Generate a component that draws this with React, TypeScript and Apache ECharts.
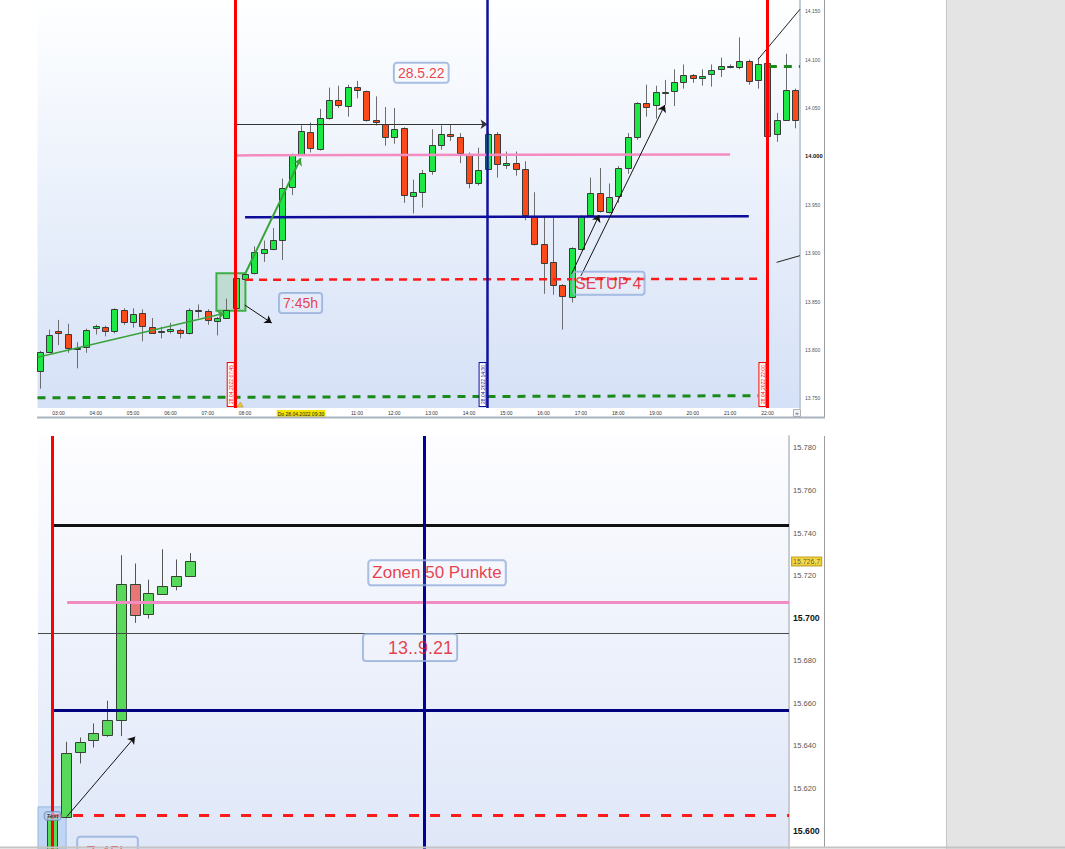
import React, { useEffect, useRef } from "react";
import * as echarts from "echarts";

// ---------- Oberer Chart: 15-Minuten-Kerzen, Do 28.04.2022 ----------
// Zeitachse in Viertelstunden seit 00:00 ("02:30" -> 10)
const topFirstTime = "02:30";
const topOpen = [
  13778, 13798, 13820, 13816, 13801, 13803, 13823, 13824, 13820, 13841, 13829, 13838,
  13824, 13819, 13820, 13821, 13818, 13841, 13840.5, 13830, 13833, 13843, 13873, 13879,
  13900, 13904, 13914, 13968, 14002, 14025, 14008, 14040, 14058, 14052, 14072, 14068,
  14038, 14033, 14020, 14029, 13959, 13963, 13985, 14012, 14023, 14020, 14001, 13972,
  13987, 14023, 13991, 13993, 13987, 13938, 13909, 13891, 13867, 13855, 13904, 13939,
  13962, 13943, 13959, 13988, 14020, 14055, 14053, 14066, 14068, 14077, 14084, 14081,
  14085, 14090, 14093.5, 14092, 14099, 14079, 14096, 14023, 14038, 14069,
];
const topClose = [
  13798, 13815, 13817, 13802, 13802, 13821, 13825, 13819.5, 13842, 13829, 13837, 13825,
  13818, 13820, 13822, 13818, 13841, 13840, 13831, 13833, 13841, 13874, 13878, 13901,
  13904, 13914, 13967, 14001, 14026, 14009, 14040, 14058, 14053, 14072, 14069, 14038,
  14035, 14020, 14028, 13960, 13963, 13983, 14012, 14023, 14021, 14003, 13973, 13986,
  14023, 13992, 13993, 13987, 13939, 13909, 13890, 13867, 13856, 13905, 13938, 13962,
  13944, 13958, 13988, 14020, 14055, 14051, 14067, 14067, 14077, 14084, 14081, 14083,
  14089, 14093, 14092, 14099, 14078, 14095, 14021, 14038, 14069, 14038,
];
const topLow = [
  13760, 13797, 13805, 13797, 13781, 13797, 13816, 13814, 13817, 13826, 13823, 13809,
  13817, 13812, 13817, 13812, 13816, 13833, 13826, 13815, 13832, 13842, 13872, 13878,
  13891, 13903, 13893, 13960, 14001, 14004, 14006, 14038, 14050, 14041, 14060, 14036,
  14032, 14011, 14013, 13952, 13941, 13947, 13981, 14007, 14016, 13993, 13967, 13970,
  13986, 13978, 13987, 13980, 13934, 13908, 13858, 13857, 13821, 13849, 13903, 13938,
  13942, 13941, 13952, 13982, 14017, 14041, 14039, 14053, 14052, 14070, 14076, 14073,
  14072, 14082, 14091, 14090, 14074, 14070, 14020, 14015, 14037, 14029,
];
const topHigh = [
  13799, 13821, 13831, 13827, 13808, 13822, 13826, 13825, 13843, 13843, 13843, 13842,
  13833, 13824, 13828, 13822, 13843, 13847, 13842, 13834, 13853, 13876, 13879, 13907,
  13913, 13926, 13977, 14003, 14032, 14035, 14049, 14071, 14073, 14074, 14078, 14068,
  14062, 14051, 14050, 14030, 13976, 13986, 14028, 14032, 14033, 14024, 14004, 14009,
  14025, 14025, 14005, 14005, 13995, 13963, 13938, 13937, 13868, 13906, 13939, 13978,
  13988, 13972, 13990, 14024, 14056, 14074, 14073, 14079, 14090, 14095, 14085, 14090,
  14095, 14102, 14095, 14123, 14100, 14102, 14097, 14045, 14106, 14070,
];

const topTimeLabels = [
  "03:00", "04:00", "05:00", "06:00", "07:00", "08:00", "11:00", "12:00", "13:00",
  "14:00", "15:00", "16:00", "17:00", "18:00", "19:00", "20:00", "21:00", "22:00",
];
const topDateLabel = "Do 28.04.2022 09:30";
const topPriceTicks = [13750, 13800, 13850, 13900, 13950, 14000, 14050, 14100, 14150];
const topBoldTicks = [14000];

// Vertikale Zeitmarken
const topMarkTimes = ["07:45", "14:30", "22:00"];
const topMarkTexts = ["28.04.2022 07:45", "28.04.2022 14:30", "28.04.2022 22:00"];

// Horizontale Level
const topRangeHigh = 14033.2;
const topPinkLevel = 14001;
const topNavyLevel = 13937;
const topRedLevel = 13872.5;
const topGreenLow = [13750.6, 13752.7];
const topGreenHigh = 14093.5;

// Beschriftungen: Text, Zeit (Viertelstunden), Kurs
const topNoteTexts = ["28.5.22", "7:45h", "SETUP 4"];
const topNoteSlots = [50.89, 37.95, 70.98];
const topNotePrices = [14086.4, 13848.4, 13868.8];

// ---------- Unterer Chart: 13.9.21 ----------
const bottomFirstTime = "07:45";
const bottomOpen = [15575, 15606.7, 15637.2, 15642.7, 15644.9, 15652.3, 15716.3, 15702.1, 15711.5, 15715, 15719.8];
const bottomClose = [15607, 15636.5, 15641.9, 15645.8, 15652.3, 15716, 15701.7, 15712, 15715.1, 15719.8, 15726.7];
const bottomLow = [15570, 15606, 15631.7, 15639.2, 15644.2, 15644.6, 15697.8, 15699.8, 15711, 15713.1, 15719.5];
const bottomHigh = [15607.5, 15641.9, 15643.9, 15650.5, 15661.2, 15729.6, 15725.7, 15718.1, 15732.4, 15727.6, 15730.6];

const bottomPriceTicks = [15600, 15620, 15640, 15660, 15680, 15700, 15720, 15740, 15760, 15780];
const bottomBoldTicks = [15600, 15700];
const bottomMarkTimes = ["07:45", "14:30"];

const bottomBlackLevel = 15743.8;
const bottomPinkLevel = 15707.7;
const bottomGrayLevel = 15693;
const bottomNavyLevel = 15656.7;
const bottomRedLevel = 15607.2;

const bottomNoteTexts = ["Zonen 50 Punkte", "13..9.21", "Text", "7:45h"];
const bottomNoteSlots = [58.96, 57.0, 31.04, 35.03];
const bottomNotePrices = [15721.3, 15686.2, 15607.05, 15597.2];

const FONT = '"Liberation Sans", Arial, Helvetica, sans-serif';
const NOTE_RED = "#e4101a";

const slotOf = (t: string) => {
  const [h, m] = t.split(":").map(Number);
  return h * 4 + m / 15;
};

const fmtPrice = (v: number) => {
  const i = Math.floor(v);
  const frac = Math.round((v - i) * 10);
  const s = `${Math.floor(i / 1000)}.${String(i % 1000).padStart(3, "0")}`;
  return frac ? `${s},${frac}` : s;
};

function candleItem(colors: any) {
  return (params: any, api: any) => {
    const x = api.value(0);
    const o = api.value(1);
    const c = api.value(2);
    const l = api.value(3);
    const h = api.value(4);
    const pO = api.coord([x, o]);
    const pC = api.coord([x, c]);
    const pL = api.coord([x, l]);
    const pH = api.coord([x, h]);
    let w = Math.round(api.size([1, 0])[0] * 0.8);
    if (w % 2 === 0) w -= 1;
    const half = Math.floor(w / 2);
    const cx = Math.round(pO[0]) + 0.5;
    const top = Math.round(Math.min(pO[1], pC[1])) + 0.5;
    const bot = Math.round(Math.max(pO[1], pC[1])) + 0.5;
    const up = c >= o;
    return {
      type: "group",
      children: [
        {
          type: "line",
          shape: { x1: cx, y1: pH[1], x2: cx, y2: pL[1] },
          style: { stroke: colors.wick, lineWidth: 1 },
        },
        {
          type: "rect",
          shape: { x: cx - half, y: top, width: half * 2, height: Math.max(bot - top, 1) },
          style: { fill: up ? colors.up : colors.down, stroke: colors.border, lineWidth: 1 },
        },
      ],
    };
  };
}

function hLine(x1: number, x2: number, y1: number, y2: number, lineStyle: any, arrow = false) {
  return [
    { coord: [x1, y1], lineStyle, symbol: "none" },
    { coord: [x2, y2], symbol: arrow ? "arrow" : "none", symbolSize: 7 },
  ];
}

function vLine(slot: number, color: string, width: number, text?: string) {
  return {
    xAxis: slot,
    lineStyle: { color, width, type: "solid" },
    label: text
      ? {
          show: true,
          position: "insideStartTop",
          formatter: text,
          color,
          fontSize: 5,
          fontFamily: FONT,
          backgroundColor: "#ffffff",
          borderColor: color,
          borderWidth: 1,
          padding: [1, 2, 0, 2],
          distance: 2,
        }
      : { show: false },
  };
}

function noteLabel(text: string, fontSize: number, extra: any = {}) {
  return {
    show: true,
    position: "inside",
    formatter: text,
    color: NOTE_RED,
    fontSize,
    fontFamily: FONT,
    backgroundColor: "rgba(255,255,255,0.15)",
    borderColor: "#8eaad8",
    borderWidth: 1,
    borderRadius: 3,
    padding: [3, 4, 3, 4],
    ...extra,
  };
}

function buildOption() {
  const topStart = slotOf(topFirstTime);
  const bottomStart = slotOf(bottomFirstTime);
  const topCandles = topOpen.map((o, i) => [topStart + i, o, topClose[i], topLow[i], topHigh[i]]);
  const bottomCandles = bottomOpen.map((o, i) => [bottomStart + i, o, bottomClose[i], bottomLow[i], bottomHigh[i]]);

  // Achsenfenster (Viertelstunden bzw. Punkte)
  const topXMin = 9.75;
  const topXMax = 91.49;
  const botXMin = 29.98;
  const botXMax = 84.52;
  const botYMin = 15591.5;
  const botYMax = 15785.64;

  const [m0745, m1430, m2200] = topMarkTimes.map(slotOf);

  const topGrad = new echarts.graphic.LinearGradient(0, 0, 0, 1, [
    { offset: 0, color: "#feffff" },
    { offset: 1, color: "#d5e1f7" },
  ]);
  const botGrad = new echarts.graphic.LinearGradient(0, 0, 0, 1, [
    { offset: 0, color: "#fdfdff" },
    { offset: 1, color: "#dfe7f8" },
  ]);

  const redDash = { color: "#ff1a1a", width: 2.5, type: [8, 6] };
  const greenDash = { color: "#1b8a1b", width: 3, type: [8, 7] };

  const topLabelSize = [14, 14, 16];
  const topNotes = topNoteTexts.map((t, i) => ({
    value: [topNoteSlots[i], topNotePrices[i]],
    label: noteLabel(t, topLabelSize[i], i === 2 ? { padding: [4, 3, 3, 2] } : {}),
  }));

  const lastPrice = bottomClose[bottomClose.length - 1];
  const bottomNoteStyles: any[] = [
    { fontSize: 17, padding: [4, 4, 4, 4] },
    { fontSize: 18, padding: [5, 4, 4, 25] },
    {
      fontSize: 6,
      fontWeight: "bold",
      color: "#222",
      padding: [1, 2, 1, 2],
      backgroundColor: "rgba(200,215,240,0.7)",
      borderColor: "#6f8fc0",
    },
    { fontSize: 17, padding: [7, 9, 6, 9], position: "bottom", distance: 0 },
  ];
  const bottomNotes: any[] = bottomNoteTexts.map((t, i) => ({
    value: [bottomNoteSlots[i], bottomNotePrices[i]],
    label: noteLabel(t, bottomNoteStyles[i].fontSize, bottomNoteStyles[i]),
  }));
  bottomNotes.push({
    value: [botXMax, lastPrice],
    label: {
      show: true,
      position: "right",
      distance: 3,
      formatter: fmtPrice(lastPrice),
      color: "#333",
      fontSize: 7,
      fontFamily: FONT,
      backgroundColor: "#f6d21f",
      borderColor: "#b08c00",
      borderWidth: 1,
      padding: [1, 1, 0, 1],
    },
  });

  const topTimeSlots = topTimeLabels.map(slotOf);
  const dateSlot = slotOf(topDateLabel.slice(-5));

  return {
    animation: false,
    backgroundColor: "#ffffff",
    tooltip: { show: false },
    grid: [
      { left: 37.5, top: 0, width: 762.5, height: 408, show: true, backgroundColor: topGrad, borderWidth: 0 },
      { left: 38, top: 436, width: 751, height: 413, show: true, backgroundColor: botGrad, borderWidth: 0 },
    ],
    xAxis: [
      {
        gridIndex: 0,
        type: "value",
        min: topXMin,
        max: topXMax,
        interval: 0.25,
        splitLine: { show: false },
        axisLine: { show: false },
        axisTick: { show: false },
        axisLabel: {
          show: true,
          margin: 2,
          fontSize: 5,
          color: "#333",
          fontFamily: FONT,
          formatter: (v: number) => {
            if (Math.abs(v - dateSlot) < 1e-6) return `{d|${topDateLabel}}`;
            const k = topTimeSlots.findIndex((s) => Math.abs(s - v) < 1e-6);
            return k >= 0 ? topTimeLabels[k] : "";
          },
          rich: {
            d: { backgroundColor: "#f2e400", color: "#222", fontSize: 5, fontFamily: FONT, padding: [1.5, 1, 1, 1] },
          },
        },
      },
      {
        gridIndex: 1,
        type: "value",
        min: botXMin,
        max: botXMax,
        show: false,
        splitLine: { show: false },
      },
    ],
    yAxis: [
      {
        gridIndex: 0,
        type: "value",
        position: "right",
        min: 13740,
        max: 14161.57,
        interval: 10,
        splitLine: { show: false },
        axisLine: { show: true, lineStyle: { color: "#c3cbd5", width: 2 } },
        axisTick: { show: false },
        axisLabel: {
          margin: 5,
          fontSize: 5,
          color: "#555",
          fontFamily: FONT,
          formatter: (v: number) => {
            if (!topPriceTicks.includes(v)) return "";
            return topBoldTicks.includes(v) ? `{b|${fmtPrice(v)}}` : fmtPrice(v);
          },
          rich: { b: { fontSize: 5.8, fontWeight: "bold", color: "#111", fontFamily: FONT } },
        },
      },
      {
        gridIndex: 1,
        type: "value",
        position: "right",
        min: botYMin,
        max: botYMax,
        interval: 0.5,
        splitLine: { show: false },
        axisLine: { show: true, lineStyle: { color: "#c6ccd2", width: 2 } },
        axisTick: { show: false },
        axisLabel: {
          margin: 4,
          fontSize: 7.6,
          color: "#555",
          fontFamily: FONT,
          formatter: (v: number) => {
            if (!bottomPriceTicks.includes(v)) return "";
            return bottomBoldTicks.includes(v) ? `{b|${fmtPrice(v)}}` : fmtPrice(v);
          },
          rich: { b: { fontSize: 8.7, fontWeight: "bold", color: "#111", fontFamily: FONT } },
        },
      },
    ],
    series: [
      {
        type: "custom",
        name: "DAX 28.04.2022",
        xAxisIndex: 0,
        yAxisIndex: 0,
        clip: true,
        silent: true,
        z: 3,
        renderItem: candleItem({ up: "#1ce845", down: "#fb4a1a", border: "#3a3a3a", wick: "#6d6d6d" }),
        encode: { x: 0, y: [1, 2, 3, 4] },
        data: topCandles,
      },
      {
        type: "custom",
        name: "DAX 13.09.2021",
        xAxisIndex: 1,
        yAxisIndex: 1,
        clip: true,
        silent: true,
        z: 3,
        renderItem: candleItem({ up: "#58d95c", down: "#e87676", border: "#334433", wick: "#555555" }),
        encode: { x: 0, y: [1, 2, 3, 4] },
        data: bottomCandles,
      },
      {
        type: "scatter",
        xAxisIndex: 0,
        yAxisIndex: 0,
        symbolSize: 0,
        silent: true,
        z: 6,
        data: topNotes,
        markArea: {
          silent: true,
          data: [
            [
              {
                coord: [28.93, 13879.2],
                itemStyle: { color: "rgba(70,175,70,0.22)", borderColor: "#3cae45", borderWidth: 2 },
              },
              { coord: [32.04, 13840.5] },
            ],
          ],
        },
        markLine: {
          silent: true,
          symbol: ["none", "none"],
          label: { show: false },
          data: [
            hLine(m0745, m1430, topRangeHigh, topRangeHigh, { color: "#333", width: 1, type: "solid" }, true),
            hLine(m0745, 84, topPinkLevel, topPinkLevel + 1, { color: "#f48cc2", width: 2.5, type: "solid" }),
            hLine(32, 86, topNavyLevel, topNavyLevel + 1, { color: "#0d0d99", width: 2.5, type: "solid" }),
            hLine(32, 87, topRedLevel, topRedLevel + 1, redDash),
            hLine(topXMin, 87, topGreenLow[0], topGreenLow[1], greenDash),
            hLine(88.15, topXMax, topGreenHigh, topGreenHigh, greenDash),
            hLine(9.77, 29.82, 13792.4, 13837.8, { color: "#3aa23a", width: 1.5, type: "solid" }, true),
            hLine(32.04, 37.97, 13879.2, 13998, { color: "#3aa23a", width: 2, type: "solid" }, true),
            hLine(31.97, 34.86, 13846.4, 13827.8, { color: "#111", width: 1, type: "solid" }, true),
            hLine(67.0, 69.96, 13878.4, 13939.4, { color: "#111", width: 1, type: "solid" }, true),
            hLine(68.0, 77.0, 13876.4, 14053.1, { color: "#111", width: 1, type: "solid" }, true),
            hLine(87.0, topXMax, 14100.3, 14152, { color: "#222", width: 1, type: "solid" }),
            hLine(88.98, topXMax, 13890.5, 13897.4, { color: "#222", width: 1, type: "solid" }),
            vLine(m0745, "#ff0000", 3, topMarkTexts[0]),
            vLine(m1430, "#10109c", 2.5, topMarkTexts[1]),
            vLine(m2200, "#ff0000", 3, topMarkTexts[2]),
          ],
        },
      },
      {
        type: "scatter",
        xAxisIndex: 0,
        yAxisIndex: 0,
        silent: true,
        z: 7,
        symbol: "triangle",
        symbolSize: [6, 5],
        itemStyle: { color: "#f2c200", borderColor: "#a07800", borderWidth: 0.5 },
        data: [[31.48, 13743.6]],
      },
      {
        type: "scatter",
        xAxisIndex: 1,
        yAxisIndex: 1,
        symbolSize: 0,
        silent: true,
        z: 6,
        data: bottomNotes,
        markArea: {
          silent: true,
          data: [
            [
              {
                coord: [29.89, 15611.3],
                itemStyle: { color: "rgba(165,198,240,0.55)", borderColor: "#98b6e0", borderWidth: 1 },
              },
              { coord: [32.02, botYMin] },
            ],
          ],
        },
        markLine: {
          silent: true,
          symbol: ["none", "none"],
          label: { show: false },
          data: [
            hLine(31, botXMax, bottomBlackLevel, bottomBlackLevel, { color: "#111", width: 3, type: "solid" }),
            hLine(32.09, botXMax, bottomPinkLevel, bottomPinkLevel, { color: "#f28dc4", width: 3, type: "solid" }),
            hLine(botXMin, botXMax, bottomGrayLevel, bottomGrayLevel, { color: "#4a4a4a", width: 1, type: "solid" }),
            hLine(31, botXMax, bottomNavyLevel, bottomNavyLevel, { color: "#00007f", width: 3, type: "solid" }),
            hLine(31, botXMax, bottomRedLevel, bottomRedLevel, { color: "#ff1a1a", width: 3, type: [10, 11] }),
            hLine(32.07, 37.03, 15606.7, 15644.3, { color: "#111", width: 1, type: "solid" }, true),
            vLine(slotOf(bottomMarkTimes[0]), "#ff0000", 3),
            vLine(slotOf(bottomMarkTimes[1]), "#00009a", 3),
          ],
        },
      },
    ],
    graphic: [
      { type: "rect", z: 100, shape: { x: 946, y: 0, width: 119, height: 849 }, style: { fill: "#e4e4e4" } },
      { type: "line", z: 101, shape: { x1: 946.5, y1: 0, x2: 946.5, y2: 849 }, style: { stroke: "#c6c6c6", lineWidth: 1 } },
      { type: "line", z: 101, shape: { x1: 824.5, y1: 0, x2: 824.5, y2: 418 }, style: { stroke: "#9c9c9c", lineWidth: 1 } },
      { type: "line", z: 101, shape: { x1: 37, y1: 417.5, x2: 825, y2: 417.5 }, style: { stroke: "#a9b3bf", lineWidth: 2 } },
      { type: "line", z: 101, shape: { x1: 824.5, y1: 436, x2: 824.5, y2: 847 }, style: { stroke: "#9c9c9c", lineWidth: 1 } },
      { type: "line", z: 101, shape: { x1: 0, y1: 847.5, x2: 1065, y2: 847.5 }, style: { stroke: "#c4c4c4", lineWidth: 2 } },
      { type: "rect", z: 101, shape: { x: 793.5, y: 409.5, width: 7, height: 7 }, style: { fill: "#f2f2f2", stroke: "#b0b0b0", lineWidth: 1 } },
      {
        type: "text",
        z: 102,
        x: 797,
        y: 413,
        style: { text: "»", fontSize: 6, fill: "#444", align: "center", verticalAlign: "middle", fontFamily: FONT },
      },
    ],
  };
}

export default function App() {
  const ref = useRef<HTMLDivElement>(null);
  useEffect(() => {
    if (!ref.current) return;
    const chart = echarts.init(ref.current, undefined, { renderer: "svg" });
    chart.setOption(buildOption() as any);
    return () => chart.dispose();
  }, []);
  return (
    <div style={{ position: "fixed", left: 0, top: 0, width: 1065, height: 849, background: "#ffffff" }}>
      <div ref={ref} style={{ width: 1065, height: 849 }} />
    </div>
  );
}
